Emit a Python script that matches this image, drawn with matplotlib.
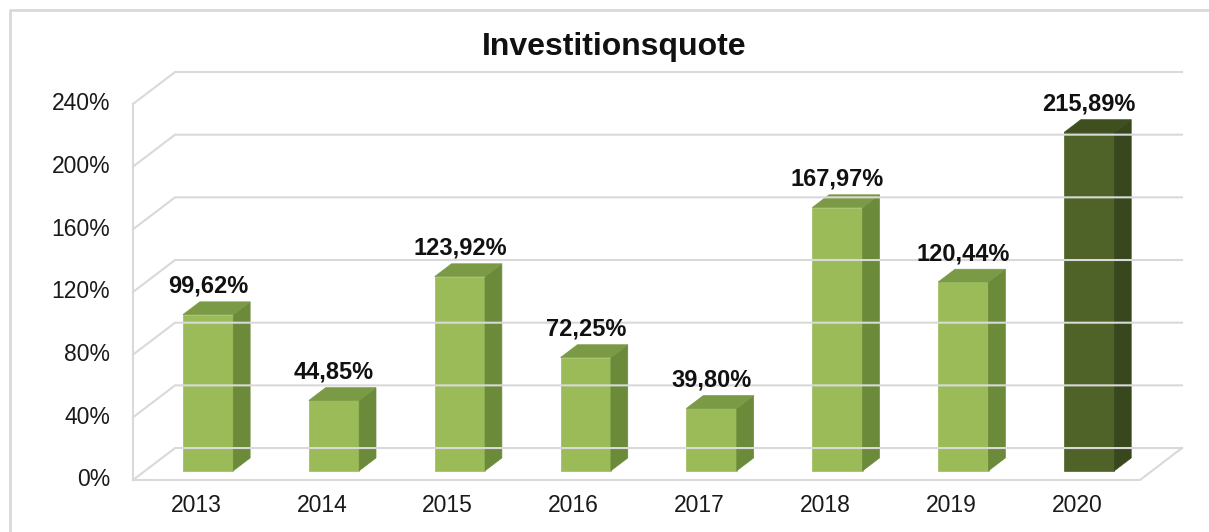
import matplotlib.pyplot as plt
from matplotlib.patches import Polygon
from matplotlib.lines import Line2D

years = ['2013', '2014', '2015', '2016', '2017', '2018', '2019', '2020']
quote = [99.62, 44.85, 123.92, 72.25, 39.80, 167.97, 120.44, 215.89]
y_ticks = [0, 40, 80, 120, 160, 200, 240]

plt.rcParams['font.family'] = ['Liberation Sans', 'DejaVu Sans']

# 3d look: how far the back wall sits from the front (in category / percent units)
DX = 0.334
DY = 20.4
D0, D1 = 0.29, 0.69   # depth of bar front and back face
BW = 0.4
grid_c = '#d9d9d9'

light = ('#9bbb59', '#6b8a3a', '#7b9a45')   # front, side, top
dark = ('#4f6228', '#38471c', '#3f4f20')


def p(x, y, d):
    return (x + d * DX, y + d * DY)


fig = plt.figure(figsize=(12.09, 5.32), dpi=100)
ax = fig.add_axes([133 / 1209, 52 / 532, 1049 / 1209, 408 / 532])
n = len(years)
ax.set_xlim(-0.5, n - 0.5 + DX)
ax.set_ylim(0, y_ticks[-1] + DY)
ax.axis('off')

lw = 1.5
# gridlines on left and back wall
for t in y_ticks:
    x0, y0 = p(-0.5, t, 0)
    x1, y1 = p(-0.5, t, 1)
    x2, y2 = p(n - 0.5, t, 1)
    ax.plot([x0, x1, x2], [y0, y1, y2], color=grid_c, lw=lw, clip_on=False)
    ax.text(-0.68, t, f'{t}%', ha='right', va='center', fontsize=16.5, color='#1a1a1a')
# front vertical axis line
ax.plot([-0.5, -0.5], [0, y_ticks[-1]], color=grid_c, lw=lw, clip_on=False)
# floor
fx = [-0.5, n - 0.5, p(n - 0.5, 0, 1)[0]]
fy = [0, 0, p(n - 0.5, 0, 1)[1]]
ax.plot(fx, fy, color=grid_c, lw=lw, clip_on=False)

for i, (yr, v) in enumerate(zip(years, quote)):
    front, side, top = dark if i == n - 1 else light
    l, r = i - BW / 2, i + BW / 2
    fl = p(l, 0, D0)
    fr_b = p(r, 0, D0)
    fr_t = p(r, v, D0)
    fl_t = p(l, v, D0)
    br_b = p(r, 0, D1)
    br_t = p(r, v, D1)
    bl_t = p(l, v, D1)
    ax.add_patch(Polygon([fl, fr_b, fr_t, fl_t], closed=True, fc=front, ec=front, lw=0.5))
    ax.add_patch(Polygon([fr_b, br_b, br_t, fr_t], closed=True, fc=side, ec=side, lw=0.5))
    ax.add_patch(Polygon([fl_t, fr_t, br_t, bl_t], closed=True, fc=top, ec=top, lw=0.5))
    lab = f'{v:.2f}%'.replace('.', ',')
    ax.annotate(lab, (i + D0 * DX, v + D1 * DY), xytext=(0, 3), textcoords='offset points',
                ha='center', va='bottom', fontsize=17, fontweight='bold', color='#111111')
    ax.text(i, -16, yr, ha='center', va='center', fontsize=16.5, color='#1a1a1a')

fig.text(614 / 1209, 1 - 47 / 532, 'Investitionsquote', ha='center', va='center',
         fontsize=23, fontweight='bold', color='#111111')

# outer chart border (top and left visible)
fig.add_artist(Line2D([10 / 1209, 10 / 1209, 1], [0, 1 - 10 / 532, 1 - 10 / 532],
                      transform=fig.transFigure, color='#d9d9d9', lw=2))

fig.savefig('out.png', dpi=100)
